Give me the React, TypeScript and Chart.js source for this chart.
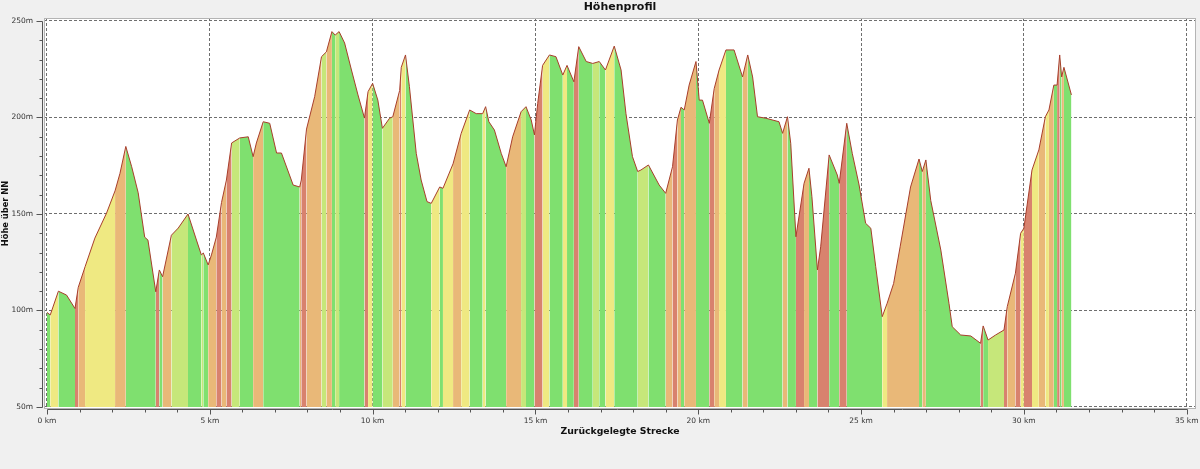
import { useEffect, useRef } from "react";
import { Chart, registerables } from "chart.js";

Chart.register(...registerables);

// Distance along the route (km)
const distanceKm = [
  0.0, 0.1, 0.35, 0.6, 0.86, 0.96, 1.17, 1.47, 1.83, 2.09, 2.24, 2.42, 2.6, 2.8, 3.0, 3.1, 3.34, 3.45, 3.55, 3.82,
  4.03, 4.33, 4.59, 4.74, 4.8, 4.95, 5.05, 5.2, 5.36, 5.51, 5.67, 5.92, 6.18, 6.33, 6.43, 6.64, 6.84, 7.05, 7.2, 7.56,
  7.76, 7.81, 7.97, 8.22, 8.43, 8.58, 8.75, 8.85, 8.97, 9.14, 9.35, 9.55, 9.75, 9.86, 10.0, 10.16, 10.3, 10.52, 10.62, 10.83,
  10.88, 11.01, 11.13, 11.34, 11.49, 11.67, 11.8, 12.06, 12.16, 12.47, 12.72, 12.98, 13.18, 13.38, 13.47, 13.57, 13.74, 13.95, 14.1, 14.3,
  14.56, 14.71, 14.87, 14.97, 15.07, 15.22, 15.43, 15.63, 15.84, 15.97, 16.18, 16.33, 16.56, 16.76, 16.96, 17.15, 17.42, 17.63, 17.78, 17.98,
  18.14, 18.24, 18.47, 18.8, 19.0, 19.21, 19.36, 19.47, 19.57, 19.72, 19.93, 20.03, 20.13, 20.34, 20.49, 20.64, 20.85, 21.1, 21.36, 21.52,
  21.67, 21.82, 22.08, 22.48, 22.59, 22.74, 22.84, 23.0, 23.25, 23.4, 23.49, 23.66, 23.76, 24.02, 24.27, 24.33, 24.56, 24.73, 24.94, 25.14,
  25.3, 25.45, 25.65, 25.8, 26.0, 26.2, 26.52, 26.78, 26.88, 26.99, 27.14, 27.45, 27.7, 27.8, 28.06, 28.37, 28.67, 28.75, 28.9, 29.13,
  29.39, 29.49, 29.74, 29.9, 30.0, 30.25, 30.46, 30.66, 30.77, 30.92, 31.02, 31.1, 31.16, 31.23, 31.46,
];

// Elevation above sea level (m)
const elevationM = [
  99, 97.7, 110, 108, 101, 112, 122.7, 137.5, 150.5, 162, 171, 185, 174.5, 161, 138, 136.5, 109.7, 121, 117.5, 139,
  142.7, 150, 136.5, 128.8, 129.8, 123.6, 128.8, 138, 156, 167.6, 186.8, 189.4, 190, 179.7, 186.8, 197.8, 197, 181.6, 181.6, 165,
  164, 167.6, 194, 210.8, 231.5, 234, 244.5, 242.7, 244.5, 238.6, 224.6, 211.7, 199.7, 213.4, 217.7, 209, 194.4, 199.6, 200.4, 214,
  226, 232.4, 216, 181.4, 167.6, 156.4, 155.5, 164, 163.3, 176, 191.8, 203.9, 202, 202, 205.6, 197.8, 193.5, 181.4, 174.5, 190,
  203, 205.6, 198.7, 191, 207.3, 227, 232.4, 231.5, 222, 227, 218.5, 236.7, 229, 228, 229, 224.6, 237, 224.6, 202, 179.7,
  172, 172.8, 175.4, 165, 160.7, 174.5, 198.7, 205.3, 203.9, 216.8, 229, 209, 209, 197, 215, 224.6, 235, 235, 221, 232.4,
  221, 200.4, 199.6, 197.8, 191.8, 200.4, 186.6, 138.2, 165.9, 173.7, 159, 121, 133, 180.6, 170.2, 165.9, 197, 181.4, 165, 145.2,
  142.6, 122.7, 96.8, 103.7, 114, 133, 164, 178.5, 172, 178, 157, 131.3, 103.7, 91.6, 87.3, 86.8, 83, 92, 84.7, 87.3,
  89.9, 102, 119.3, 140, 142.6, 172.8, 183.2, 200.4, 203.9, 216.8, 216.8, 232.4, 221, 226, 211.7,
];

// Axis ticks
const xMajorTicks = [0, 5, 10, 15, 20, 25, 30, 35];
const xMinorTicks = [
  0, 1, 2, 3, 4, 5, 6, 7, 8, 9, 10, 11, 12, 13, 14, 15, 16, 17, 18,
  19, 20, 21, 22, 23, 24, 25, 26, 27, 28, 29, 30, 31, 32, 33, 34, 35,
];
const yMajorTicks = [50, 100, 150, 200, 250];
const yMinorTicks = [
  50, 60, 70, 80, 90, 100, 110, 120, 130, 140, 150, 160, 170, 180, 190, 200, 210, 220, 230, 240, 250,
];

const FONT = "'DejaVu Sans', Verdana, sans-serif";

function gradeColor(grade: number): string {
  if (grade <= 0.5) return "#7fe06f";
  if (grade < 2.5) return "#c6e77a";
  if (grade < 5) return "#efe982";
  if (grade < 10) return "#e9b878";
  return "#d8826e";
}

const framePlugin = {
  id: "frameAndTicks",
  beforeDraw(chart: any) {
    const { ctx, chartArea: a, width, height } = chart;
    ctx.save();
    ctx.fillStyle = "#f0f0f0";
    ctx.fillRect(0, 0, width, height);
    ctx.fillStyle = "#ffffff";
    ctx.fillRect(a.left, a.top, a.right - a.left, a.bottom - a.top);
    ctx.restore();
  },
  afterDraw(chart: any) {
    const { ctx, chartArea: a } = chart;
    const xs = chart.scales.x;
    const ys = chart.scales.y;
    ctx.save();
    ctx.strokeStyle = "#b4b4b4";
    ctx.lineWidth = 1;
    ctx.strokeRect(a.left + 0.5, a.top + 0.5, a.right - a.left - 1, a.bottom - a.top - 1);

    ctx.strokeStyle = "#555555";
    ctx.beginPath();
    const ax = Math.round(a.left) - 1.5;
    ctx.moveTo(ax, Math.round(ys.getPixelForValue(yMajorTicks[yMajorTicks.length - 1])) + 0.5);
    ctx.lineTo(ax, Math.round(ys.getPixelForValue(yMajorTicks[0])) + 0.5);
    for (const v of yMinorTicks) {
      const py = Math.round(ys.getPixelForValue(v)) + 0.5;
      const len = yMajorTicks.includes(v) ? 6 : 3;
      ctx.moveTo(ax - len, py);
      ctx.lineTo(ax, py);
    }
    const ay = Math.round(a.bottom) + 0.5;
    ctx.moveTo(Math.round(xs.getPixelForValue(xMajorTicks[0])) + 0.5, ay);
    ctx.lineTo(Math.round(xs.getPixelForValue(xMajorTicks[xMajorTicks.length - 1])) + 0.5, ay);
    for (const v of xMinorTicks) {
      const px = Math.round(xs.getPixelForValue(v)) + 0.5;
      const len = xMajorTicks.includes(v) ? 5 : 3;
      ctx.moveTo(px, ay);
      ctx.lineTo(px, ay + len);
    }
    ctx.stroke();
    ctx.restore();
  },
};

export default function App() {
  const canvasRef = useRef<HTMLCanvasElement | null>(null);

  useEffect(() => {
    const canvas = canvasRef.current;
    if (!canvas) return;
    const points = distanceKm.map((d, i) => ({ x: d, y: elevationM[i] }));

    const chart = new Chart(canvas, {
      type: "line",
      data: {
        datasets: [
          {
            data: points,
            borderColor: "rgb(168,62,44)",
            borderWidth: 1,
            pointRadius: 0,
            tension: 0,
            fill: { value: 50 },
            backgroundColor: "#7fe06f",
            segment: {
              backgroundColor: (c: any) => {
                const i0 = c.p0DataIndex;
                const i1 = c.p1DataIndex;
                const dx = (distanceKm[i1] - distanceKm[i0]) * 1000;
                const dy = elevationM[i1] - elevationM[i0];
                return gradeColor((dy / dx) * 100);
              },
            },
          },
        ],
      },
      options: {
        responsive: false,
        animation: false,
        layout: { padding: { left: 0, right: 4, top: 0, bottom: 0 } },
        plugins: {
          legend: { display: false },
          tooltip: { enabled: false },
          title: {
            display: true,
            fullSize: false,
            text: "Höhenprofil",
            color: "#111111",
            font: { family: FONT, size: 11, weight: "bold" },
            padding: { top: 1, bottom: 3.8 },
          },
        },
        scales: {
          x: {
            type: "linear",
            min: -0.0921,
            max: 35.286,
            z: 1,
            afterBuildTicks: (s: any) => {
              s.ticks = xMinorTicks.map((v) => ({ value: v }));
            },
            afterFit: (s: any) => {
              s.height = 60;
              s.paddingLeft = 0;
              s.paddingRight = 0;
            },
            grid: {
              drawTicks: false,
              lineWidth: 1,
              color: (c: any) => (c.tick && xMajorTicks.includes(c.tick.value) ? "#6e6e6e" : "rgba(0,0,0,0)"),
            },
            border: { display: false, dash: [3, 2] },
            ticks: {
              autoSkip: false,
              maxRotation: 0,
              padding: 7.5,
              color: "#333333",
              font: { family: FONT, size: 7.5 },
              callback: (v: any) => (xMajorTicks.includes(Number(v)) ? `${v} km` : ""),
            },
            title: {
              display: true,
              text: "Zurückgelegte Strecke",
              color: "#111111",
              font: { family: FONT, size: 9.3, weight: "bold" },
              padding: { top: 0, bottom: 31.4 },
            },
          },
          y: {
            type: "linear",
            min: 48.96,
            max: 251.55,
            z: 1,
            afterBuildTicks: (s: any) => {
              s.ticks = yMinorTicks.map((v) => ({ value: v }));
            },
            afterFit: (s: any) => {
              s.width = 44;
              s.paddingTop = 0;
              s.paddingBottom = 0;
            },
            grid: {
              drawTicks: false,
              lineWidth: 1,
              color: (c: any) => (c.tick && yMajorTicks.includes(c.tick.value) ? "#6e6e6e" : "rgba(0,0,0,0)"),
            },
            border: { display: false, dash: [3, 2] },
            ticks: {
              autoSkip: false,
              padding: 11,
              color: "#333333",
              font: { family: FONT, size: 7.5 },
              callback: (v: any) => (yMajorTicks.includes(Number(v)) ? `${v}m` : ""),
            },
            title: {
              display: true,
              text: "Höhe über NN",
              color: "#111111",
              font: { family: FONT, size: 8.3, weight: "bold" },
              padding: { top: 1.2, bottom: 0 },
            },
          },
        },
      },
      plugins: [framePlugin],
    });

    return () => chart.destroy();
  }, []);

  return (
    <div
      style={{
        position: "fixed",
        left: 0,
        top: 0,
        width: 1200,
        height: 469,
        background: "#f0f0f0",
      }}
    >
      <canvas ref={canvasRef} width={1200} height={469} style={{ display: "block" }} />
    </div>
  );
}
